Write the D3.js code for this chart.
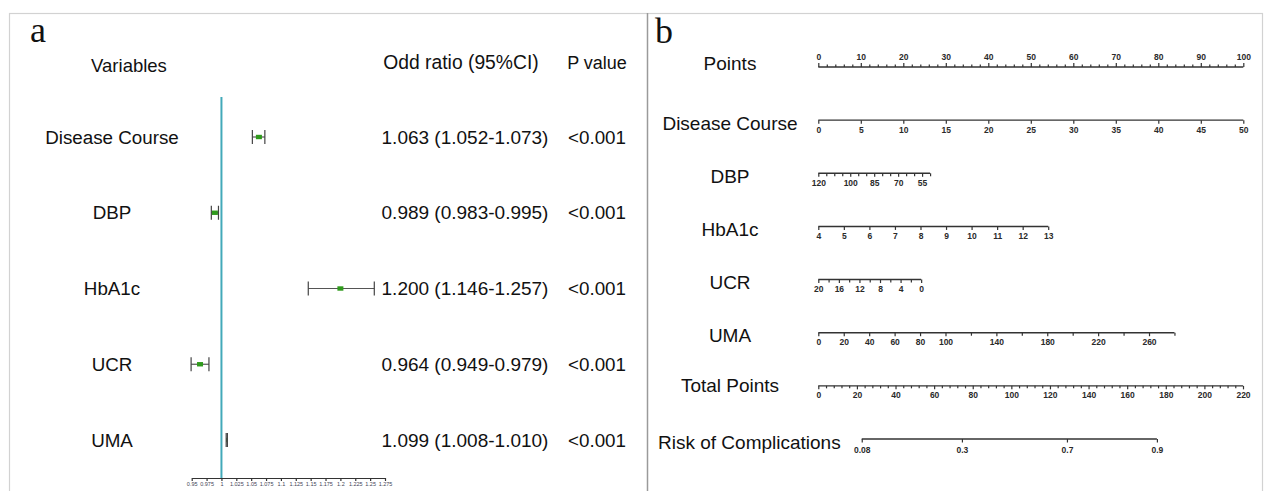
<!DOCTYPE html>
<html><head><meta charset="utf-8">
<script src="https://cdn.jsdelivr.net/npm/d3@7/dist/d3.min.js"></script>
<style>body{margin:0;background:#fff}svg{display:block}</style>
</head><body><svg id="c" width="1270" height="491"></svg>
<script>
// ---------- Panel a: forest plot data ----------
const variables = ["Disease Course", "DBP", "HbA1c", "UCR", "UMA"];
const orEstimate = [1.063, 0.989, 1.200, 0.964, 1.009];
const ciLower   = [1.052, 0.983, 1.146, 0.949, 1.008];
const ciUpper   = [1.073, 0.995, 1.257, 0.979, 1.010];
const orLabels  = ["1.063 (1.052-1.073)", "0.989 (0.983-0.995)", "1.200 (1.146-1.257)", "0.964 (0.949-0.979)", "1.099 (1.008-1.010)"];
const pValues   = ["<0.001", "<0.001", "<0.001", "<0.001", "<0.001"];
const forestTicks = [0.95, 0.975, 1, 1.025, 1.05, 1.075, 1.1, 1.125, 1.15, 1.175, 1.2, 1.225, 1.25, 1.275];

// ---------- Panel b: nomogram data ----------
const nomoRows = ["Points", "Disease Course", "DBP", "HbA1c", "UCR", "UMA", "Total Points", "Risk of Complications"];
const pointsLabels = [0, 10, 20, 30, 40, 50, 60, 70, 80, 90, 100];
const varNames   = ["Disease Course", "DBP", "HbA1c", "UCR", "UMA"];
const varStart   = [0, 120, 4, 20, 0];
const varEnd     = [50, 50, 13, 0, 280];
const varMaxPts  = [100, 26.3, 54.1, 24.2, 83.8];
const varTickStep = [5, 5, 1, 2, 20];
const varLabels  = [
  [0, 5, 10, 15, 20, 25, 30, 35, 40, 45, 50],
  [120, 100, 85, 70, 55],
  [4, 5, 6, 7, 8, 9, 10, 11, 12, 13],
  [20, 16, 12, 8, 4, 0],
  [0, 20, 40, 60, 80, 100, 140, 180, 220, 260]
];
const totalLabels = [0, 20, 40, 60, 80, 100, 120, 140, 160, 180, 200, 220];
const riskLabels = [0.08, 0.3, 0.7, 0.9];
const riskTotalPoints = [22.5, 74.4, 128.8, 175.4];

const FONT = "'Liberation Sans', Arial, Helvetica, sans-serif";
const SERIF = "'Liberation Serif', 'Times New Roman', serif";
const svg = d3.select("#c");

// frame
svg.append("rect").attr("x", 9.5).attr("y", 13.5).attr("width", 1253).attr("height", 490)
  .attr("fill", "none").attr("stroke", "#d2d2d2").attr("stroke-width", 1.2);
svg.append("line").attr("x1", 647.5).attr("x2", 647.5).attr("y1", 13).attr("y2", 491)
  .attr("stroke", "#9a9a9a").attr("stroke-width", 1.5);

svg.append("text").attr("x", 30).attr("y", 42).attr("font-family", SERIF).attr("font-size", 36).attr("fill", "#111").text("a");
svg.append("text").attr("x", 655).attr("y", 43).attr("font-family", SERIF).attr("font-size", 36).attr("fill", "#111").text("b");

// ---------- Panel a ----------
const gA = svg.append("g").attr("font-family", FONT).attr("fill", "#111");
const x = d3.scaleLinear().domain([0.95, 1.275]).range([191.7, 385]);
const y = d3.scalePoint().domain(variables).range([137, 440]);

gA.append("text").attr("x", 129).attr("y", 72).attr("text-anchor", "middle").attr("font-size", 18.5).text("Variables");
gA.append("text").attr("x", 461).attr("y", 69).attr("text-anchor", "middle").attr("font-size", 19.3).text("Odd ratio (95%CI)");
gA.append("text").attr("x", 597).attr("y", 69).attr("text-anchor", "middle").attr("font-size", 18).text("P value");

gA.append("line").attr("x1", x(1)).attr("x2", x(1)).attr("y1", 97).attr("y2", 478)
  .attr("stroke", "#42a9b9").attr("stroke-width", 2);

const rows = gA.selectAll("g.row").data(variables).join("g").attr("class", "row");
rows.append("text").attr("x", 112).attr("y", d => y(d)).attr("dy", "0.35em")
  .attr("text-anchor", "middle").attr("font-size", 18.8).text(d => d);
rows.append("text").attr("x", 465).attr("y", d => y(d)).attr("dy", "0.35em")
  .attr("text-anchor", "middle").attr("font-size", 19).text((d, i) => orLabels[i]);
rows.append("text").attr("x", 597).attr("y", d => y(d)).attr("dy", "0.35em")
  .attr("text-anchor", "middle").attr("font-size", 18.8).text((d, i) => pValues[i]);

rows.append("line").attr("x1", (d, i) => x(ciLower[i])).attr("x2", (d, i) => x(ciUpper[i]))
  .attr("y1", d => y(d)).attr("y2", d => y(d)).attr("stroke", "#555").attr("stroke-width", 1.2);
rows.append("rect")
  .attr("width", (d, i) => Math.min(6, x(ciUpper[i]) - x(ciLower[i])))
  .attr("x", (d, i) => x(orEstimate[i]) - Math.min(6, x(ciUpper[i]) - x(ciLower[i])) / 2)
  .attr("y", d => y(d) - 2.2).attr("height", 4.4).attr("fill", "#2f9a1c");
[ciLower, ciUpper].forEach(arr => {
  rows.append("line").attr("x1", (d, i) => x(arr[i])).attr("x2", (d, i) => x(arr[i]))
    .attr("y1", d => y(d) - 7).attr("y2", d => y(d) + 7).attr("stroke", "#444").attr("stroke-width", 1.2);
});

const axA = gA.append("g").attr("transform", "translate(0,478)")
  .call(d3.axisBottom(x).tickValues(forestTicks).tickSize(3).tickSizeOuter(0).tickFormat(d3.format("")));
axA.select(".domain").attr("stroke", "#333").attr("stroke-width", 1.2);
axA.selectAll(".tick line").attr("stroke", "#333").attr("stroke-width", 1.2);
axA.selectAll(".tick text").attr("font-size", 5.5).attr("font-family", FONT).attr("fill", "#445").attr("dy", "0.9em").attr("y", 3);

// ---------- Panel b ----------
const gB = svg.append("g").attr("font-family", FONT).attr("fill", "#111");
const px = d3.scaleLinear().domain([0, 100]).range([818.3, 1243.3]);
const tx = d3.scaleLinear().domain([0, 220]).range([818.3, 1243]);
const ry = d3.scalePoint().domain(nomoRows).range([67, 439]);

function styleAxis(g) {
  g.select(".domain").remove();
  g.selectAll(".tick line").attr("stroke", "#333").attr("stroke-width", 1.2);
  g.selectAll(".tick text").attr("font-size", 8.5).attr("font-weight", "bold").attr("font-family", FONT).attr("fill", "#2a2a2a");
}
function baseLine(x1, x2, yy) {
  gB.append("line").attr("x1", x1).attr("x2", x2).attr("y1", yy).attr("y2", yy)
    .attr("stroke", "#333").attr("stroke-width", 1.4);
}

// row labels
nomoRows.forEach(r => {
  const t = gB.append("text").attr("y", ry(r) + (r === "Points" ? -4 : (r === "Total Points" ? -1 : 3)))
    .attr("dy", "0.35em").attr("text-anchor", "middle").attr("font-size", 19).attr("x", 730).text(r);
  const w = t.node().getComputedTextLength();
  t.attr("x", Math.max(730, 658 + w / 2));
});

// Points axis (top)
{
  const yy = ry("Points");
  baseLine(px(0), px(100), yy);
  const minor = d3.range(0, 101, 2).filter(v => v % 10 !== 0);
  gB.append("g").attr("transform", `translate(0,${yy})`)
    .call(d3.axisTop(px).tickValues(minor).tickSize(2.5).tickFormat("")).call(styleAxis);
  gB.append("g").attr("transform", `translate(0,${yy})`)
    .call(d3.axisTop(px).tickValues(pointsLabels).tickSize(4).tickPadding(3)).call(styleAxis);
}

// variable axes
varNames.forEach((name, i) => {
  const yy = ry(name);
  const s = d3.scaleLinear().domain([varStart[i], varEnd[i]]).range([px(0), px(varMaxPts[i])]);
  baseLine(s.range()[0], s.range()[1], yy);
  const lo = Math.min(varStart[i], varEnd[i]), hi = Math.max(varStart[i], varEnd[i]);
  const ticks = d3.range(lo, hi + 1e-9, varTickStep[i]).filter(v => !varLabels[i].includes(v));
  gB.append("g").attr("transform", `translate(0,${yy})`)
    .call(d3.axisBottom(s).tickValues(ticks).tickSize(3).tickFormat("")).call(styleAxis);
  gB.append("g").attr("transform", `translate(0,${yy})`)
    .call(d3.axisBottom(s).tickValues(varLabels[i]).tickSize(3.5).tickPadding(3)).call(styleAxis);
});

// Total points
{
  const yy = ry("Total Points");
  baseLine(tx(0), tx(220), yy);
  const minor = d3.range(0, 221, 4).filter(v => v % 20 !== 0);
  gB.append("g").attr("transform", `translate(0,${yy})`)
    .call(d3.axisBottom(tx).tickValues(minor).tickSize(2.5).tickFormat("")).call(styleAxis);
  gB.append("g").attr("transform", `translate(0,${yy})`)
    .call(d3.axisBottom(tx).tickValues(totalLabels).tickSize(3.5).tickPadding(3)).call(styleAxis);
}

// Risk
{
  const yy = ry("Risk of Complications");
  const rx = d3.scaleOrdinal().domain(riskLabels).range(riskTotalPoints.map(p => tx(p)));
  baseLine(rx(riskLabels[0]), rx(riskLabels[riskLabels.length - 1]), yy);
  gB.append("g").attr("transform", `translate(0,${yy})`)
    .call(d3.axisBottom(rx).tickValues(riskLabels).tickSize(3.5).tickPadding(4)).call(styleAxis);
}
</script></body></html>
